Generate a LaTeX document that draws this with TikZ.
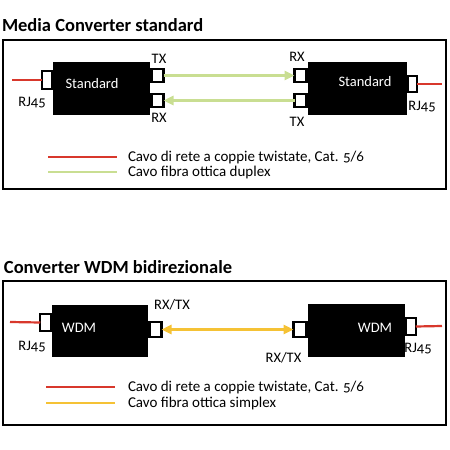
\documentclass[tikz,border=0pt]{standalone}
\usepackage{fontspec}
\setmainfont{Carlito}[Numbers=OldStyle]
\usepackage{xcolor}
\usepackage{tikz}
\usetikzlibrary{
  arrows.meta,
  positioning
}
\definecolor{cablered}{HTML}{D8382C}
\definecolor{fibregreen}{HTML}{C9DE92}
\definecolor{fibreyellow}{HTML}{F5C235}

\begin{document}
\begin{tikzpicture}[x=1pt, y=-1pt,
    every node/.style={inner sep=0pt, outer sep=0pt},
    frame/.style={draw, line width=1.4pt},
    title/.style={anchor=west, font=\bfseries\fontsize{18.5}{20}\selectfont},
    device/.style={rectangle, fill=black, text=white},
    port/.style={rectangle, draw=black, fill=white, line width=2.4pt, minimum width=12pt, minimum height=12.5pt},
    rjport/.style={port, minimum width=9.5pt, minimum height=17.5pt},
    lbl/.style={font=\fontsize{14.5}{16}\selectfont},
    legend/.style={anchor=west, font=\fontsize{15}{17}\selectfont},
    utp/.style={draw=cablered, line width=2.2pt},
    duplex/.style={draw=fibregreen, line width=2.6pt, -{Triangle[length=10pt, width=9pt]}},
    simplex/.style={draw=fibreyellow, line width=2.6pt, {Triangle[length=10pt, width=9pt]}-{Triangle[length=10pt, width=9pt]}},
    shortcable/.style={line width=2.6pt}]
\useasboundingbox (0,0) rectangle (450,450);

% --- Media Converter standard ---
\node[title] (stdtitle) at (2,25) {Media Converter standard};
\draw[frame] (3,40) rectangle (446,189);

\node[device, minimum width=97pt, minimum height=53pt] (stdl) at (101.5,88.5) {};
\node[lbl, text=white] (stdltext) at (92,84) {Standard};
\node[rjport] (stdlrj) at (47,80) {};
\node[port] (stdltx) at (157.5,75.5) {};
\node[port] (stdlrx) at (157.5,100.5) {};
\node[lbl] at (159,59) {TX};
\node[lbl] at (159,118) {RX};
\node[lbl] at (32,103) {RJ45};

\node[device, minimum width=99pt, minimum height=53pt] (stdr) at (357.5,88.5) {};
\node[lbl, text=white] (stdrtext) at (365,82) {Standard};
\node[port] (stdrrx) at (300.5,75.5) {};
\node[port] (stdrtx) at (300.5,100.5) {};
\node[rjport, minimum height=16.5pt] (stdrrj) at (412.5,84) {};
\node[lbl] at (297,57) {RX};
\node[lbl] at (297,122) {TX};
\node[lbl] at (422,107) {RJ45};

\coordinate (stdlin) at (12,80);
\coordinate (stdrout) at (442,84);
\draw[utp] (stdlin) -- (stdlrj.west);
\draw[utp] (stdrrj.east) -- (stdrout);
\draw[duplex] (stdltx.east) -- (stdrrx.west);
\draw[duplex] (stdrtx.west) -- (stdlrx.east);

\coordinate (stdkeya) at (48,157);
\coordinate (stdkeyb) at (48,172);
\draw[utp, shortcable] (stdkeya) -- ++(69,0) node[legend, text=black, xshift=11pt] {Cavo di rete a coppie twistate, Cat. 5/6};
\draw[draw=fibregreen, shortcable] (stdkeyb) -- ++(69,0) node[legend, text=black, xshift=11pt] {Cavo fibra ottica duplex};

% --- Converter WDM bidirezionale ---
\node[title] (wdmtitle) at (4,267) {Converter WDM bidirezionale};
\draw[frame] (3,281) rectangle (446,425);

\node[device, minimum width=96pt, minimum height=52pt] (wdml) at (100,331) {};
\node[lbl, text=white] (wdmltext) at (79,328) {WDM};
\node[rjport, minimum width=10.5pt, minimum height=16.5pt] (wdmlrj) at (45.5,322.5) {};
\node[port, minimum height=15.5pt] (wdmlfo) at (155.5,329.5) {};
\node[lbl] at (172,305) {RX/TX};
\node[lbl] at (32,347) {RJ45};

\node[device, minimum width=97pt, minimum height=53pt] (wdmr) at (356.5,330.5) {};
\node[lbl, text=white] (wdmrtext) at (375,328) {WDM};
\node[port, minimum width=13pt, minimum height=15.5pt] (wdmrfo) at (300,329.5) {};
\node[rjport, minimum height=16.5pt] (wdmrrj) at (411,326.5) {};
\node[lbl] at (283.5,358) {RX/TX};
\node[lbl] at (418,349) {RJ45};

\coordinate (wdmlin) at (10,322);
\coordinate (wdmrout) at (442,326);
\draw[utp] (wdmlin) -- (wdmlrj.west);
\draw[utp] (wdmrrj.east) -- (wdmrout);
\draw[simplex] (wdmlfo.east) -- (wdmrfo.west);

\coordinate (wdmkeya) at (46,387);
\coordinate (wdmkeyb) at (46,403);
\draw[utp, shortcable] (wdmkeya) -- ++(69,0) node[legend, text=black, xshift=13pt] {Cavo di rete a coppie twistate, Cat. 5/6};
\draw[draw=fibreyellow, shortcable] (wdmkeyb) -- ++(69,0) node[legend, text=black, xshift=13pt] {Cavo fibra ottica simplex};
\end{tikzpicture}
\end{document}
